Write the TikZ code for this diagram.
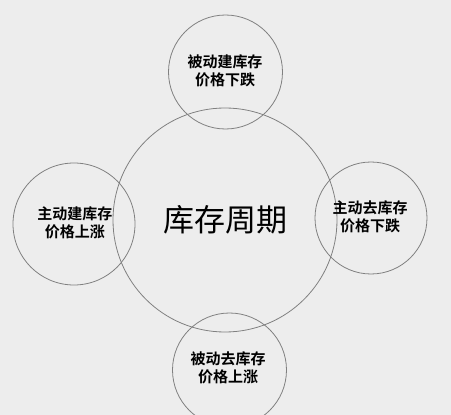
\documentclass[tikz,border=0pt]{standalone}
\usepackage{fontspec}
\newfontfamily\cjk{Noto Sans CJK SC}
\newfontfamily\cjkb{Noto Sans CJK SC Bold}
\begin{document}
\begin{tikzpicture}[x=1pt,y=-1pt,
  ring/.style={circle,draw=black!50,line width=0.8pt,inner sep=0pt},
  lbl/.style={align=center,font=\cjkb\fontsize{15}{18.5}\selectfont,text=black}]
\fill[black!7] (0,0) rectangle (451,415);
\useasboundingbox (0,0) rectangle (451,415);
\node[ring,minimum size=224pt] (c) at (225,220) {};
\node[ring,minimum size=114pt] (t) at (225.5,72) {};
\node[ring,minimum size=122pt] (l) at (74,224) {};
\node[ring,minimum size=112pt] (r) at (371,218) {};
\node[ring,minimum size=114pt] (b) at (229.5,370) {};
\node[font=\cjk\fontsize{31}{32}\selectfont] (ct) at (226,220) {库存周期};
\node[lbl] (tt) at (225,71) {被动建库存\\价格下跌};
\node[lbl] (lt) at (75,223) {主动建库存\\价格上涨};
\node[lbl] (rt) at (370,217) {主动去库存\\价格下跌};
\node[lbl] (bt) at (228,368) {被动去库存\\价格上涨};
\end{tikzpicture}
\end{document}
